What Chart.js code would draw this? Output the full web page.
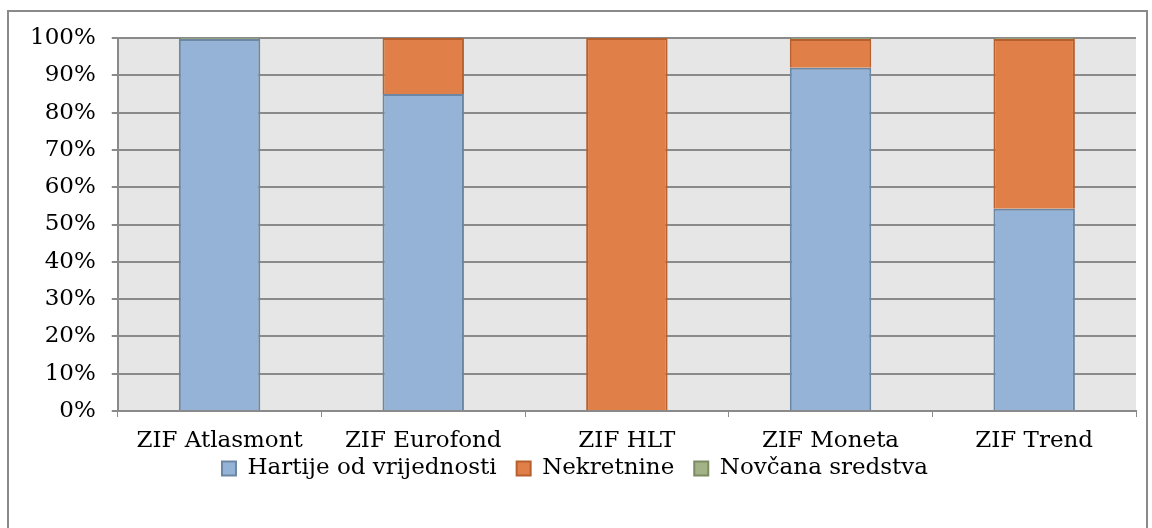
<!DOCTYPE html>
<html><head><meta charset="utf-8">
<script src="https://cdn.jsdelivr.net/npm/chart.js@4"></script>
<style>html,body{margin:0;padding:0;background:#fff}#wrap{width:1152px;height:528px}</style>
</head><body><div id="wrap"><canvas id="c" width="1152" height="528"></canvas></div>
<script>
const categories = ["ZIF Atlasmont","ZIF Eurofond","ZIF HLT","ZIF Moneta","ZIF Trend"];
const hartije = [99.7, 85.0, 0, 92.0, 54.2];
const nekretnine = [0, 15.0, 100, 7.7, 45.5];
const novcana = [0.3, 0, 0, 0.3, 0.3];
const seriesNames = ["Hartije od vrijednosti","Nekretnine","Novčana sredstva"];

const FONT = "'DejaVu Serif', serif";
const frame = {
  id:'frame',
  afterLayout(chart){
    const lg = chart.legend;
    if (lg) { lg.top -= 18; lg.bottom -= 18; }
  },
  beforeDraw(chart){
    const {ctx, chartArea:a} = chart;
    ctx.save();
    ctx.fillStyle = '#e6e6e6';
    ctx.fillRect(a.left, a.top, a.right-a.left, a.bottom-a.top);
    ctx.strokeStyle = '#8a8a8a';
    ctx.lineWidth = 2;
    ctx.strokeRect(8, 11, 1139, 540);
    ctx.restore();
  }
};
new Chart(document.getElementById('c'), {
  type:'bar',
  data:{
    labels: categories,
    datasets:[
      {label:seriesNames[0], data:hartije, backgroundColor:'#95b3d7', borderColor:'#6c87a3', borderWidth:2},
      {label:seriesNames[1], data:nekretnine, backgroundColor:'#e07f47', borderColor:'#b5602e', borderWidth:2},
      {label:seriesNames[2], data:novcana, backgroundColor:'#a3b387', borderColor:'#7d8c63', borderWidth:2}
    ]
  },
  options:{
    responsive:false, animation:false,
    layout:{padding:{left:14, right:16, top:38, bottom:20}},
    datasets:{bar:{categoryPercentage:0.4, barPercentage:1}},
    plugins:{
      legend:{position:'bottom', labels:{font:{family:FONT,size:23}, color:'#000', boxWidth:14, boxHeight:14, padding:20, useBorderRadius:false}},
      tooltip:{enabled:false}
    },
    scales:{
      x:{stacked:true,
        afterFit:(s)=>{ s.height = 44; },
        grid:{display:true, drawOnChartArea:false, drawTicks:true, tickLength:6, color:'#8a8a8a', offset:true},
        border:{display:true, color:'#8a8a8a', width:2},
        ticks:{font:{family:FONT,size:23}, color:'#000', padding:10, maxRotation:0}
      },
      y:{stacked:true, min:0, max:100,
        grid:{color:'#8a8a8a', lineWidth:2, tickLength:6, drawTicks:true},
        border:{display:true, color:'#8a8a8a', width:2},
        ticks:{stepSize:10, font:{family:FONT,size:23}, color:'#000', padding:16, callback:v=>v+'%'}
      }
    }
  },
  plugins:[frame]
});
</script></body></html>
